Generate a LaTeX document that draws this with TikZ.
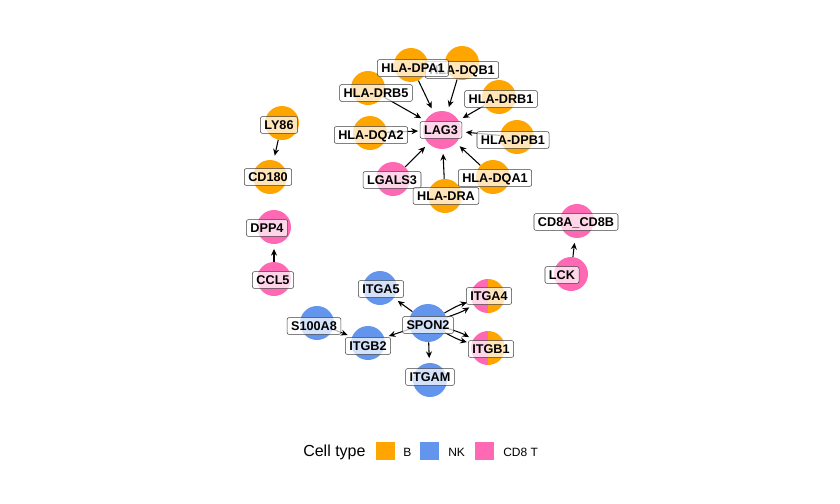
\documentclass[tikz,border=0pt]{standalone}
\usepackage{fontspec}
\setmainfont{Liberation Sans}
\usepackage{tikz}
\usetikzlibrary{arrows.meta,positioning}
\definecolor{BCell}{HTML}{FFA500}
\definecolor{NKCell}{HTML}{6495ED}
\definecolor{CDeight}{HTML}{FF69B4}

\begin{document}
\begin{tikzpicture}[
  x=0.75pt, y=-0.75pt,
  gene/.style={circle, minimum size=25.5pt, inner sep=0pt},
  hub/.style={minimum size=28.5pt},
  bgene/.style={gene, fill=BCell},
  nkgene/.style={gene, fill=NKCell},
  tgene/.style={gene, fill=CDeight},
  mixgene/.style={gene, path picture={
    \fill[CDeight] (path picture bounding box.south west) rectangle (path picture bounding box.north);
    \fill[BCell] (path picture bounding box.south) rectangle (path picture bounding box.north east);}},
  tag/.style={rectangle, draw=black!75, line width=0.4pt, rounded corners=1.5pt, fill=white, fill opacity=0.72, text opacity=1,
    font=\bfseries\fontsize{9.5}{11}\selectfont, inner xsep=3pt, inner ysep=2.3pt, text height=7pt, text depth=1pt},
  arrow/.style={-{Stealth[length=5pt,width=4.5pt]}, line width=0.8pt, shorten >=3.5pt},
  key/.style={rectangle, minimum size=14pt, inner sep=0pt},
  keytext/.style={anchor=west, inner sep=0pt, font=\fontsize{9}{11}\selectfont}
]
  \useasboundingbox[fill=white] (0,0) rectangle (840,504);

  \node[bgene] (dqb1) at (462,63) {};
  \node[bgene] (dpa1) at (411,65) {};
  \node[bgene] (drb5) at (368,88) {};
  \node[bgene] (drb1) at (499,97) {};
  \node[bgene] (dqa2) at (370,133) {};
  \node[bgene] (dpb1) at (517,137) {};
  \node[tgene, hub] (lag3) at (442,130) {};
  \node[tgene] (lgals3) at (393,179) {};
  \node[bgene] (dqa1) at (493,177) {};
  \node[bgene] (dra) at (445,196) {};

  \node[bgene] (ly86) at (282,123) {};
  \node[bgene] (cd180) at (270,177) {};
  \node[tgene] (dpp4) at (274,227) {};
  \node[tgene] (ccl5) at (274,279) {};
  \node[tgene] (cd8ab) at (577,221) {};
  \node[tgene] (lck) at (571,274) {};

  \node[nkgene] (itga5) at (380,288) {};
  \node[nkgene] (s100a8) at (317,323) {};
  \node[nkgene] (itgb2) at (368,343) {};
  \node[nkgene, hub] (spon2) at (428,323) {};
  \node[mixgene] (itga4) at (488,296) {};
  \node[mixgene] (itgb1) at (488,348) {};
  \node[nkgene] (itgam) at (430,380) {};

  \draw[arrow] (dpa1) -- (lag3);
  \draw[arrow] (dqb1) -- (lag3);
  \draw[arrow] (drb5) -- (lag3);
  \draw[arrow] (drb1) -- (lag3);
  \draw[arrow] (dqa2) -- (lag3);
  \draw[arrow] (dpb1) -- (lag3);
  \draw[arrow] (lgals3) -- (lag3);
  \draw[arrow] (dqa1) -- (lag3);
  \draw[arrow] (dra) -- (lag3);
  \draw[arrow] (ly86) -- (cd180);
  \draw[arrow] (ccl5) -- (dpp4);
  \draw[arrow] (lck) -- (cd8ab);
  \draw[arrow] (spon2) -- (itga5);
  \draw[arrow] (spon2) to[bend left=7] (itga4);
  \draw[arrow] (spon2) to[bend right=7] (itga4);
  \draw[arrow] (spon2) to[bend left=7] (itgb1);
  \draw[arrow] (spon2) to[bend right=7] (itgb1);
  \draw[arrow] (spon2) -- (itgb2);
  \draw[arrow] (spon2) -- (itgam);
  \draw[arrow] (s100a8) -- (itgb2);

  \node[tag] (dqb1-t) at (462,70) {HLA-DQB1};
  \node[tag] (dpa1-t) at (413,68) {HLA-DPA1};
  \node[tag] (drb5-t) at (376,93) {HLA-DRB5};
  \node[tag] (drb1-t) at (501,99) {HLA-DRB1};
  \node[tag] (dqa2-t) at (371,135) {HLA-DQA2};
  \node[tag] (dpb1-t) at (513,140) {HLA-DPB1};
  \node[tag] (lag3-t) at (441,130) {LAG3};
  \node[tag] (lgals3-t) at (392,180) {LGALS3};
  \node[tag] (dqa1-t) at (495,178) {HLA-DQA1};
  \node[tag] (dra-t) at (446,196) {HLA-DRA};

  \node[tag] (ly86-t) at (279,125) {LY86};
  \node[tag] (cd180-t) at (268,177) {CD180};
  \node[tag] (dpp4-t) at (267,228) {DPP4};
  \node[tag] (ccl5-t) at (273,280) {CCL5};
  \node[tag] (cd8ab-t) at (576,222) {CD8A\_CD8B};
  \node[tag] (lck-t) at (562,275) {LCK};

  \node[tag] (itga5-t) at (381,289) {ITGA5};
  \node[tag] (s100a8-t) at (314,326) {S100A8};
  \node[tag] (itgb2-t) at (368,346) {ITGB2};
  \node[tag] (spon2-t) at (428,325) {SPON2};
  \node[tag] (itga4-t) at (489,296) {ITGA4};
  \node[tag] (itgb1-t) at (491,349) {ITGB1};
  \node[tag] (itgam-t) at (430,377) {ITGAM};

  \node[anchor=west, inner sep=0pt, font=\fontsize{12}{14}\selectfont] (legtitle) at (303,452) {Cell type};
  \node[key, fill=BCell] (key-b) at (385.5,451) {};
  \node[keytext] (key-b-t) at (403,452) {B};
  \node[key, fill=NKCell] (key-nk) at (429.5,451) {};
  \node[keytext] (key-nk-t) at (448,452) {NK};
  \node[key, fill=CDeight] (key-t) at (484.5,451) {};
  \node[keytext] (key-t-t) at (503,452) {CD8 T};
\end{tikzpicture}
\end{document}
